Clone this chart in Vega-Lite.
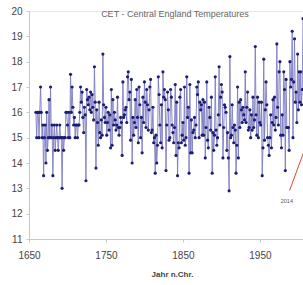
{
  "$schema": "https://vega.github.io/schema/vega-lite/v6.json",
  "width": 274,
  "height": 228,
  "autosize": {"type": "none"},
  "padding": {"left": 29, "top": 11, "right": 0, "bottom": 46},
  "background": "white",
  "config": {
    "view": {"stroke": null},
    "font": "Liberation Sans",
    "axis": {"domainColor": "#c8c8c8", "tickColor": "#c8c8c8", "labelColor": "#444", "labelFontSize": 10, "grid": false, "tickSize": 3}
  },
  "title": {"text": "CET - Central England Temperatures", "fontSize": 9, "fontWeight": "normal", "color": "#666", "anchor": "middle", "dx": 9, "offset": -13, "frame": "group"},
  "datasets": {
    "cet": [
      {"Jahr":1659,"T":16},{"Jahr":1660,"T":15},{"Jahr":1661,"T":16},{"Jahr":1662,"T":16},{"Jahr":1663,"T":15},{"Jahr":1664,"T":16},{"Jahr":1665,"T":17},{"Jahr":1666,"T":16},{"Jahr":1667,"T":15},{"Jahr":1668,"T":15.5},{"Jahr":1669,"T":13.5},{"Jahr":1670,"T":15},{"Jahr":1671,"T":15.5},{"Jahr":1672,"T":14},{"Jahr":1673,"T":16},{"Jahr":1674,"T":14.5},{"Jahr":1675,"T":15},{"Jahr":1676,"T":16.5},{"Jahr":1677,"T":15},{"Jahr":1678,"T":17},{"Jahr":1679,"T":15},{"Jahr":1680,"T":15.5},{"Jahr":1681,"T":13.5},{"Jahr":1682,"T":15},{"Jahr":1683,"T":15.5},{"Jahr":1684,"T":14.5},{"Jahr":1685,"T":15},{"Jahr":1686,"T":15.5},{"Jahr":1687,"T":15},{"Jahr":1688,"T":14.5},{"Jahr":1689,"T":15},{"Jahr":1690,"T":15.5},{"Jahr":1691,"T":15},{"Jahr":1692,"T":15},{"Jahr":1693,"T":13},{"Jahr":1694,"T":15},{"Jahr":1695,"T":14.5},{"Jahr":1696,"T":15},{"Jahr":1697,"T":15},{"Jahr":1698,"T":16},{"Jahr":1699,"T":16},
      {"Jahr":1700,"T":15.5},{"Jahr":1701,"T":15},{"Jahr":1702,"T":16},{"Jahr":1703,"T":15},{"Jahr":1704,"T":17.5},{"Jahr":1705,"T":16},{"Jahr":1706,"T":17},{"Jahr":1707,"T":16.2},{"Jahr":1708,"T":15.5},{"Jahr":1709,"T":15.8},{"Jahr":1710,"T":15},{"Jahr":1711,"T":15.5},{"Jahr":1712,"T":15.5},{"Jahr":1713,"T":15},{"Jahr":1714,"T":15.5},{"Jahr":1715,"T":15.5},{"Jahr":1716,"T":16},{"Jahr":1717,"T":17},{"Jahr":1718,"T":16.4},{"Jahr":1719,"T":16.8},{"Jahr":1720,"T":15.8},{"Jahr":1721,"T":15.2},{"Jahr":1722,"T":16.2},{"Jahr":1723,"T":15.9},{"Jahr":1724,"T":13.3},{"Jahr":1725,"T":16.9},{"Jahr":1726,"T":16.5},{"Jahr":1727,"T":16.3},{"Jahr":1728,"T":16.6},{"Jahr":1729,"T":16.1},{"Jahr":1730,"T":16.8},{"Jahr":1731,"T":16.0},{"Jahr":1732,"T":16.7},{"Jahr":1733,"T":16.2},{"Jahr":1734,"T":15.7},{"Jahr":1735,"T":17.8},{"Jahr":1736,"T":16.4},{"Jahr":1737,"T":13.8},{"Jahr":1738,"T":16.1},{"Jahr":1739,"T":15.6},{"Jahr":1740,"T":14.7},{"Jahr":1741,"T":16.4},{"Jahr":1742,"T":15.2},{"Jahr":1743,"T":15.0},{"Jahr":1744,"T":15.7},{"Jahr":1745,"T":15.1},{"Jahr":1746,"T":18.3},{"Jahr":1747,"T":16.3},{"Jahr":1748,"T":15.8},{"Jahr":1749,"T":15.6},
      {"Jahr":1750,"T":16.2},{"Jahr":1751,"T":15.1},{"Jahr":1752,"T":15.6},{"Jahr":1753,"T":16.0},{"Jahr":1754,"T":15.3},{"Jahr":1755,"T":15.9},{"Jahr":1756,"T":14.6},{"Jahr":1757,"T":16.9},{"Jahr":1758,"T":14.7},{"Jahr":1759,"T":16.5},{"Jahr":1760,"T":15.5},{"Jahr":1761,"T":16.0},{"Jahr":1762,"T":15.7},{"Jahr":1763,"T":15.3},{"Jahr":1764,"T":15.5},{"Jahr":1765,"T":16.6},{"Jahr":1766,"T":15.4},{"Jahr":1767,"T":15.1},{"Jahr":1768,"T":15.4},{"Jahr":1769,"T":15.8},{"Jahr":1770,"T":15.6},{"Jahr":1771,"T":14.3},{"Jahr":1772,"T":17.2},{"Jahr":1773,"T":15.8},{"Jahr":1774,"T":15.9},{"Jahr":1775,"T":16.1},{"Jahr":1776,"T":16.2},{"Jahr":1777,"T":15.6},{"Jahr":1778,"T":17.4},{"Jahr":1779,"T":17.6},{"Jahr":1780,"T":16.5},{"Jahr":1781,"T":16.8},{"Jahr":1782,"T":14.9},{"Jahr":1783,"T":17.3},{"Jahr":1784,"T":14.0},{"Jahr":1785,"T":15.8},{"Jahr":1786,"T":15.1},{"Jahr":1787,"T":15.6},{"Jahr":1788,"T":16.5},{"Jahr":1789,"T":15.4},{"Jahr":1790,"T":16.9},{"Jahr":1791,"T":15.8},{"Jahr":1792,"T":14.8},{"Jahr":1793,"T":17.0},{"Jahr":1794,"T":16.3},{"Jahr":1795,"T":15.0},{"Jahr":1796,"T":15.8},{"Jahr":1797,"T":14.4},{"Jahr":1798,"T":16.6},{"Jahr":1799,"T":15.6},
      {"Jahr":1800,"T":17.2},{"Jahr":1801,"T":16.4},{"Jahr":1802,"T":15.4},{"Jahr":1803,"T":16.9},{"Jahr":1804,"T":16.3},{"Jahr":1805,"T":15.3},{"Jahr":1806,"T":16.1},{"Jahr":1807,"T":17.0},{"Jahr":1808,"T":17.3},{"Jahr":1809,"T":15.2},{"Jahr":1810,"T":15.3},{"Jahr":1811,"T":16.2},{"Jahr":1812,"T":14.8},{"Jahr":1813,"T":15.0},{"Jahr":1814,"T":13.6},{"Jahr":1815,"T":15.1},{"Jahr":1816,"T":14.0},{"Jahr":1817,"T":14.7},{"Jahr":1818,"T":17.4},{"Jahr":1819,"T":16.7},{"Jahr":1820,"T":15.5},{"Jahr":1821,"T":14.8},{"Jahr":1822,"T":16.3},{"Jahr":1823,"T":14.6},{"Jahr":1824,"T":17.6},{"Jahr":1825,"T":16.6},{"Jahr":1826,"T":16.9},{"Jahr":1827,"T":16.5},{"Jahr":1828,"T":13.7},{"Jahr":1829,"T":15.5},{"Jahr":1830,"T":16.8},{"Jahr":1831,"T":16.1},{"Jahr":1832,"T":14.9},{"Jahr":1833,"T":15.0},{"Jahr":1834,"T":16.9},{"Jahr":1835,"T":16.6},{"Jahr":1836,"T":15.5},{"Jahr":1837,"T":15.2},{"Jahr":1838,"T":14.8},{"Jahr":1839,"T":15.4},{"Jahr":1840,"T":17.1},{"Jahr":1841,"T":14.3},{"Jahr":1842,"T":16.4},{"Jahr":1843,"T":13.5},{"Jahr":1844,"T":14.8},{"Jahr":1845,"T":14.6},{"Jahr":1846,"T":16.6},{"Jahr":1847,"T":16.9},{"Jahr":1848,"T":14.8},{"Jahr":1849,"T":15.1},
      {"Jahr":1850,"T":15.6},{"Jahr":1851,"T":14.9},{"Jahr":1852,"T":17.0},{"Jahr":1853,"T":14.7},{"Jahr":1854,"T":15.0},{"Jahr":1855,"T":17.4},{"Jahr":1856,"T":15.8},{"Jahr":1857,"T":16.2},{"Jahr":1858,"T":13.6},{"Jahr":1859,"T":17.1},{"Jahr":1860,"T":14.4},{"Jahr":1861,"T":15.7},{"Jahr":1862,"T":14.4},{"Jahr":1863,"T":15.2},{"Jahr":1864,"T":15.3},{"Jahr":1865,"T":15.8},{"Jahr":1866,"T":15.0},{"Jahr":1867,"T":15.5},{"Jahr":1868,"T":17.0},{"Jahr":1869,"T":16.7},{"Jahr":1870,"T":17.2},{"Jahr":1871,"T":15.0},{"Jahr":1872,"T":16.4},{"Jahr":1873,"T":16.1},{"Jahr":1874,"T":16.3},{"Jahr":1875,"T":15.1},{"Jahr":1876,"T":16.5},{"Jahr":1877,"T":15.1},{"Jahr":1878,"T":16.4},{"Jahr":1879,"T":14.2},{"Jahr":1880,"T":15.4},{"Jahr":1881,"T":17.2},{"Jahr":1882,"T":14.9},{"Jahr":1883,"T":14.6},{"Jahr":1884,"T":16.2},{"Jahr":1885,"T":15.8},{"Jahr":1886,"T":15.3},{"Jahr":1887,"T":16.6},{"Jahr":1888,"T":13.6},{"Jahr":1889,"T":15.2},{"Jahr":1890,"T":14.5},{"Jahr":1891,"T":15.1},{"Jahr":1892,"T":17.4},{"Jahr":1893,"T":15.3},{"Jahr":1894,"T":14.7},{"Jahr":1895,"T":15.0},{"Jahr":1896,"T":15.9},{"Jahr":1897,"T":17.8},{"Jahr":1898,"T":15.5},{"Jahr":1899,"T":16.6},
      {"Jahr":1900,"T":17.1},{"Jahr":1901,"T":16.8},{"Jahr":1902,"T":14.2},{"Jahr":1903,"T":15.4},{"Jahr":1904,"T":16.3},{"Jahr":1905,"T":16.2},{"Jahr":1906,"T":16.0},{"Jahr":1907,"T":14.5},{"Jahr":1908,"T":15.2},{"Jahr":1909,"T":14.2},{"Jahr":1910,"T":12.9},{"Jahr":1911,"T":18.2},{"Jahr":1912,"T":15.0},{"Jahr":1913,"T":15.1},{"Jahr":1914,"T":16.3},{"Jahr":1915,"T":15.4},{"Jahr":1916,"T":14.8},{"Jahr":1917,"T":15.5},{"Jahr":1918,"T":15.3},{"Jahr":1919,"T":13.6},{"Jahr":1920,"T":14.7},{"Jahr":1921,"T":17.0},{"Jahr":1922,"T":14.2},{"Jahr":1923,"T":16.4},{"Jahr":1924,"T":15.4},{"Jahr":1925,"T":16.5},{"Jahr":1926,"T":16.1},{"Jahr":1927,"T":15.6},{"Jahr":1928,"T":16.2},{"Jahr":1929,"T":15.9},{"Jahr":1930,"T":15.7},{"Jahr":1931,"T":17.6},{"Jahr":1932,"T":15.6},{"Jahr":1933,"T":16.2},{"Jahr":1934,"T":16.8},{"Jahr":1935,"T":15.3},{"Jahr":1936,"T":15.4},{"Jahr":1937,"T":16.1},{"Jahr":1938,"T":15.0},{"Jahr":1939,"T":15.9},{"Jahr":1940,"T":15.3},{"Jahr":1941,"T":16.6},{"Jahr":1942,"T":15.4},{"Jahr":1943,"T":15.7},{"Jahr":1944,"T":18.6},{"Jahr":1945,"T":15.9},{"Jahr":1946,"T":15.1},{"Jahr":1947,"T":16.6},{"Jahr":1948,"T":15.0},{"Jahr":1949,"T":16.4},
      {"Jahr":1950,"T":15.6},{"Jahr":1951,"T":15.5},{"Jahr":1952,"T":16.4},{"Jahr":1953,"T":13.5},{"Jahr":1954,"T":14.6},{"Jahr":1955,"T":18.1},{"Jahr":1956,"T":14.9},{"Jahr":1957,"T":16.1},{"Jahr":1958,"T":17.2},{"Jahr":1959,"T":16.3},{"Jahr":1960,"T":15.0},{"Jahr":1961,"T":14.7},{"Jahr":1962,"T":14.3},{"Jahr":1963,"T":15.0},{"Jahr":1964,"T":15.9},{"Jahr":1965,"T":14.6},{"Jahr":1966,"T":15.6},{"Jahr":1967,"T":16.5},{"Jahr":1968,"T":15.5},{"Jahr":1969,"T":16.6},{"Jahr":1970,"T":15.3},{"Jahr":1971,"T":15.8},{"Jahr":1972,"T":18.7},{"Jahr":1973,"T":16.2},{"Jahr":1974,"T":15.5},{"Jahr":1975,"T":17.6},{"Jahr":1976,"T":18.0},{"Jahr":1977,"T":15.1},{"Jahr":1978,"T":14.6},{"Jahr":1979,"T":15.9},{"Jahr":1980,"T":15.1},{"Jahr":1981,"T":17.6},{"Jahr":1982,"T":16.9},{"Jahr":1983,"T":13.7},{"Jahr":1984,"T":17.3},{"Jahr":1985,"T":15.4},{"Jahr":1986,"T":15.4},{"Jahr":1987,"T":15.4},{"Jahr":1988,"T":14.5},{"Jahr":1989,"T":18.0},{"Jahr":1990,"T":17.0},{"Jahr":1991,"T":17.3},{"Jahr":1992,"T":19.2},{"Jahr":1993,"T":15.0},{"Jahr":1994,"T":17.2},{"Jahr":1995,"T":18.9},{"Jahr":1996,"T":16.4},{"Jahr":1997,"T":16.8},{"Jahr":1998,"T":15.6},{"Jahr":1999,"T":18.3},{"Jahr":2000,"T":16.1},{"Jahr":2001,"T":17.6},{"Jahr":2002,"T":16.4},{"Jahr":2003,"T":17.6},{"Jahr":2004,"T":16.3},{"Jahr":2005,"T":16.9},{"Jahr":2006,"T":19.7}
    ],
    "top": [{"Jahr":1650,"T":20},{"Jahr":2020,"T":20}],
    "pointer": [{"Jahr":1988.6,"T":12.92},{"Jahr":2012,"T":14.85}],
    "lbl": [{"Jahr":1985,"T":12.5,"label":"2014"}]
  },
  "encoding": {
    "x": {"field": "Jahr", "type": "quantitative", "scale": {"domain": [1650, 2006], "nice": false, "zero": false},
      "axis": {"values": [1650, 1750, 1850, 1950], "format": "d", "labelPadding": 8, "title": "Jahr n.Chr.", "titleFontSize": 8, "titleFontWeight": "bold", "titleColor": "#444", "titlePadding": 10, "titleX": 143, "labelFlush": false}},
    "y": {"field": "T", "type": "quantitative", "scale": {"domain": [11, 20], "nice": false, "zero": false},
      "axis": {"values": [11,12,13,14,15,16,17,18,19,20], "labelPadding": 4, "title": null}}
  },
  "layer": [
    {"data": {"name": "top"}, "mark": {"type": "line", "color": "#d0d0d0", "strokeWidth": 1, "clip": true}},
    {"data": {"name": "cet"}, "mark": {"type": "line", "color": "#7c7cc2", "strokeWidth": 0.9, "clip": true}},
    {"data": {"name": "cet"}, "mark": {"type": "point", "filled": true, "shape": "circle", "size": 10, "color": "#1c1c72", "opacity": 1, "clip": true}},
    {"data": {"name": "pointer"}, "mark": {"type": "line", "color": "#d84a3a", "strokeWidth": 1, "clip": true}},
    {"data": {"name": "lbl"}, "mark": {"type": "text", "fontSize": 5.5, "color": "#555", "align": "center", "baseline": "middle"}, "encoding": {"text": {"field": "label"}}}
  ]
}
